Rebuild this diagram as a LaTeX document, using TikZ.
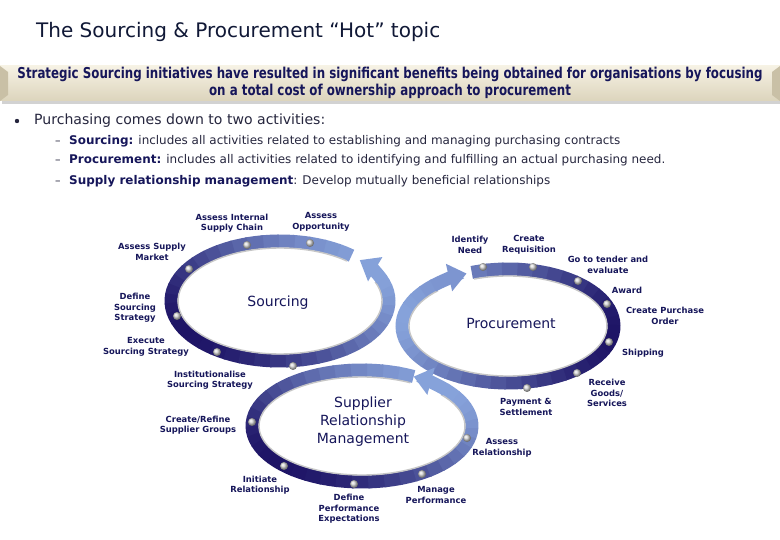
\documentclass[tikz,border=0pt]{standalone}
\usepackage{fontspec}
\setmainfont{DejaVu Sans}
\usetikzlibrary{arrows.meta}
\definecolor{ringdark}{HTML}{1E1466}
\definecolor{ringlight}{HTML}{86A2DA}
\definecolor{navy}{HTML}{16165A}
\definecolor{titlec}{HTML}{101836}
\definecolor{bodyc}{HTML}{26263E}
\definecolor{bantop}{HTML}{F6F2E4}
\definecolor{banbot}{HTML}{DCD4BC}
\definecolor{banedge}{HTML}{C9C0A6}
\tikzset{
  lab/.style={font=\fontsize{8.4}{10.5}\selectfont\bfseries, text=navy, align=center, inner sep=0pt},
  big/.style={font=\fontsize{14}{17}\selectfont, text=navy, align=center, inner sep=0pt},
  txt/.style={anchor=base west, inner sep=0pt, text=bodyc},
}
\newcommand\myring[8]{%
  \pgfmathsetmacro\stp{#6/40}%
  \pgfmathsetmacro\dd{\stp*1.12}%
  \foreach \i in {0,...,39}{%
    \pgfmathsetmacro\aa{#5+\i*\stp}%
    \pgfmathsetmacro\tt{50+50*cos(\aa+\stp/2-#7)}%
    \draw[line width=13pt,color=ringdark!\tt!ringlight] ({#1+#3*cos(\aa)},{-#2+#4*sin(\aa)}) arc[start angle=\aa,delta angle=\dd,x radius=#3,y radius=#4];
  }%
  \pgfmathsetmacro\ee{#5+#6}%
  \pgfmathsetmacro\tt{50+50*cos(\ee-#7)}%
  \draw[line width=1.4pt,color=gray!45] ({#1+(#3-7)*cos(#5)},{-#2+(#4-7)*sin(#5)}) arc[start angle=#5,delta angle=#6,x radius=#3-7,y radius=#4-7];
  \draw[line width=13pt,color=ringdark!\tt!ringlight,-{Triangle[width=27pt,length=18pt]}] ({#1+#3*cos(\ee)},{-#2+#4*sin(\ee)}) arc[start angle=\ee,delta angle=#8,x radius=#3,y radius=#4];
}
\begin{document}
\begin{tikzpicture}[x=1pt,y=1pt]
\useasboundingbox (0,0) rectangle (780,-540);
\fill[white] (0,0) rectangle (780,-540);
% title
\node[txt,text=titlec] (title) at (36,-38) {\resizebox{404pt}{!}{\fontsize{14}{16}\selectfont The Sourcing \& Procurement “Hot” topic}};
% banner
\fill[gray!35] (2,-101) rectangle (780,-104);
\shade[top color=bantop,bottom color=banbot] (0,-66) rectangle (780,-101);
\fill[banedge] (0,-66) -- (8,-72) -- (8,-95) -- (0,-101) -- cycle;
\fill[banedge] (780,-66) -- (772,-72) -- (772,-95) -- (780,-101) -- cycle;
\node[inner sep=0pt,text=navy] (banner) at (390,-83.5) {\resizebox{745pt}{21pt}{\bfseries\begin{tabular}{@{}c@{}}Strategic Sourcing initiatives have resulted in significant benefits being obtained for organisations by focusing\\[-1pt] on a total cost of ownership approach to procurement\end{tabular}}};
% bullets
\fill[bodyc] (17,-121) circle (2.2);
\node[txt] (b0) at (34,-125) {\resizebox{291pt}{!}{Purchasing comes down to two activities:}};
\node[txt] (d1) at (55,-145) {\fontsize{11}{12}\selectfont –};
\node[txt] (b1) at (69,-145) {\resizebox{551pt}{!}{\textbf{\color{navy}Sourcing:} includes all activities related to establishing and managing purchasing contracts}};
\node[txt] (d2) at (55,-164) {\fontsize{11}{12}\selectfont –};
\node[txt] (b2) at (69,-164) {\resizebox{596pt}{!}{\textbf{\color{navy}Procurement:} includes all activities related to identifying and fulfilling an actual purchasing need.}};
\node[txt] (d3) at (55,-185) {\fontsize{11}{12}\selectfont –};
\node[txt] (b3) at (69,-185) {\resizebox{481pt}{!}{\textbf{\color{navy}Supply relationship management}: Develop mutually beneficial relationships}};
% rings
\myring{280}{301}{109}{60}{49}{332}{210}{22}
\myring{508}{326}{106}{57}{110}{-335}{-10}{-22}
\myring{362}{426}{110}{56}{62}{338}{220}{22}
% dots
\foreach \p in {(247,-245),(310,-243),(189,-269),(177,-316),(217,-352),(293,-366),
  (483,-267),(533,-267),(578,-281),(607,-304),(609,-342),(577,-373),(527,-388),
  (252,-422),(284,-466),(354,-484),(422,-474),(467,-438)}
  \shade[ball color=gray!30] \p circle (4);
% labels
\node[big] (sourcing) at (278,-303) {Sourcing};
\node[big] (proc) at (511,-323) {Procurement};
\node[big,font=\fontsize{14}{18}\selectfont] (srm) at (363,-422) {Supplier\\Relationship\\Management};
\node[lab] (l1) at (232,-223) {Assess Internal\\Supply Chain};
\node[lab] (l2) at (321,-222) {Assess\\Opportunity};
\node[lab] (l3) at (152,-252) {Assess Supply\\Market};
\node[lab] (l4) at (135,-308) {Define\\Sourcing\\Strategy};
\node[lab] (l5) at (146,-347) {Execute\\Sourcing Strategy};
\node[lab] (l6) at (210,-380) {Institutionalise\\Sourcing Strategy};
\node[lab] (p1) at (470,-245) {Identify\\Need};
\node[lab] (p2) at (529,-245) {Create\\Requisition};
\node[lab] (p3) at (608,-265) {Go to tender and\\evaluate};
\node[lab] (p4) at (627,-290) {Award};
\node[lab] (p5) at (665,-316) {Create Purchase\\Order};
\node[lab] (p6) at (643,-353) {Shipping};
\node[lab] (p7) at (607,-393) {Receive\\Goods/\\Services};
\node[lab] (p8) at (526,-407) {Payment \&\\Settlement};
\node[lab] (s1) at (198,-425) {Create/Refine\\Supplier Groups};
\node[lab] (s2) at (260,-485) {Initiate\\Relationship};
\node[lab] (s3) at (349,-509) {Define\\Performance\\Expectations};
\node[lab] (s4) at (436,-495) {Manage\\Performance};
\node[lab] (s5) at (502,-448) {Assess\\Relationship};
\end{tikzpicture}
\end{document}
